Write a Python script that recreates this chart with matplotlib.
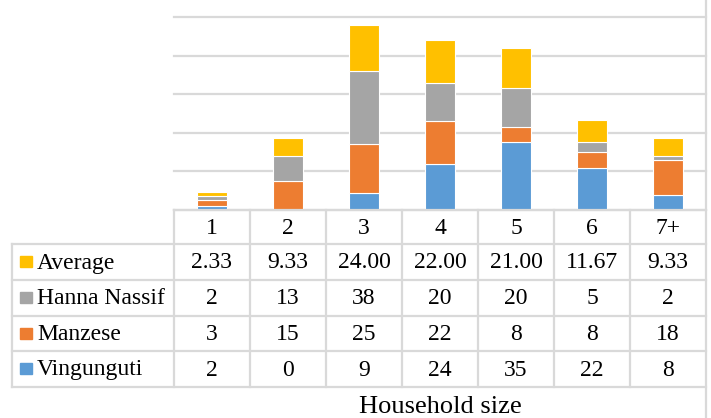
import matplotlib.pyplot as plt
import numpy as np

sizes = ["1", "2", "3", "4", "5", "6", "7+"]
vingunguti = [2, 0, 9, 24, 35, 22, 8]
manzese = [3, 15, 25, 22, 8, 8, 18]
hanna_nassif = [2, 13, 38, 20, 20, 5, 2]
average = [2.33, 9.33, 24.00, 22.00, 21.00, 11.67, 9.33]

series = [("Vingunguti", vingunguti, "#5B9BD5"),
          ("Manzese", manzese, "#ED7D31"),
          ("Hanna Nassif", hanna_nassif, "#A5A5A5"),
          ("Average", average, "#FFC000")]

W, H = 711, 418
plt.rcParams["font.family"] = ["Liberation Serif", "DejaVu Serif"]
grid_c = "#D9D9D9"

fig = plt.figure(figsize=(W / 100, H / 100), dpi=100)

# pixel layout of the plot area and table
left, right = 174, 706
top, zero = 17, 210
col_w = (right - left) / len(sizes)

ax = fig.add_axes([left / W, 1 - zero / H, (right - left) / W, (zero - top) / H])
x = np.arange(len(sizes))
bottom = np.zeros(len(sizes))
for name, vals, color in series:
    ax.bar(x, vals, 0.4, bottom=bottom, color=color, edgecolor="white", linewidth=0.8, zorder=3)
    bottom += np.array(vals)
ax.set_xlim(-0.5, len(sizes) - 0.5)
ax.set_ylim(0, 100)
ax.set_yticks(np.arange(0, 101, 20))
ax.yaxis.grid(True, color=grid_c, linewidth=1.6)
for gl in ax.get_ygridlines():
    gl.set_clip_on(False)
ax.tick_params(left=False, bottom=False, labelleft=False, labelbottom=False)
for s in ax.spines.values():
    s.set_visible(False)

# data table underneath the bars
tb = fig.add_axes([0, 0, 1, 1], facecolor="none")
tb.set_xlim(0, W)
tb.set_ylim(H, 0)
tb.axis("off")

rows_y = [210, 244, 280, 316, 351, 387]
tab_left = 12
lw = 1.6
tb.plot([left, right], [rows_y[0], rows_y[0]], color=grid_c, lw=lw)
for yy in rows_y[1:]:
    tb.plot([tab_left, right], [yy, yy], color=grid_c, lw=lw)
tb.plot([tab_left, tab_left], [rows_y[1], rows_y[-1]], color=grid_c, lw=lw)
for i in range(len(sizes)):
    xx = left + i * col_w
    tb.plot([xx, xx], [rows_y[0], rows_y[-1]], color=grid_c, lw=lw)
tb.plot([right, right], [0, H], color=grid_c, lw=lw)

fs = 17
for i, lab in enumerate(sizes):
    tb.text(left + (i + 0.5) * col_w, (rows_y[0] + rows_y[1]) / 2 + 1, lab,
            ha="center", va="center", fontsize=fs)

table_rows = [series[3], series[2], series[1], series[0]]
for r, (name, vals, color) in enumerate(table_rows):
    yc = (rows_y[r + 1] + rows_y[r + 2]) / 2
    tb.add_patch(plt.Rectangle((20, yc - 6), 12, 11, color=color))
    tb.text(37, yc + 1, name, ha="left", va="center", fontsize=fs)
    for i, v in enumerate(vals):
        txt = f"{v:.2f}" if name == "Average" else f"{v:g}"
        tb.text(left + (i + 0.5) * col_w, yc + 1, txt, ha="center", va="center", fontsize=fs)

tb.text(440, 413, "Household size", ha="center", va="baseline", fontsize=19)

fig.savefig("out.png", dpi=100)
